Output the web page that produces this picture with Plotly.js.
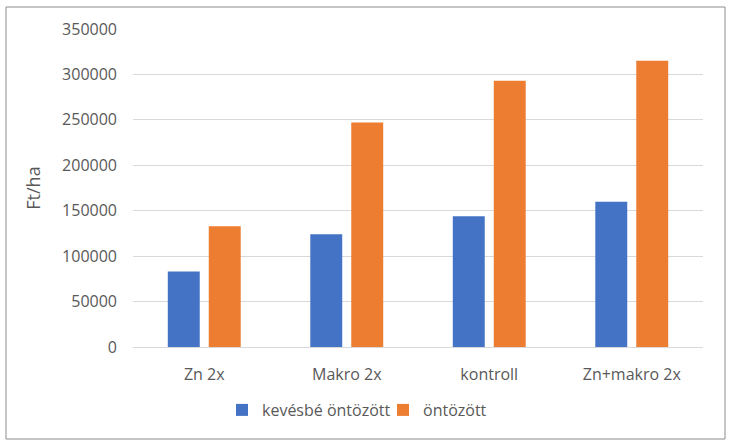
<!DOCTYPE html>
<html>
<head>
<meta charset="utf-8">
<script src="https://cdn.plot.ly/plotly-3.0.1.min.js"></script>
<style>
html,body{margin:0;padding:0;background:#fff;}
#chart{width:732px;height:446px;}
</style>
</head>
<body>
<div id="chart"></div>
<script>
const categories = ["Zn 2x", "Makro 2x", "kontroll", "Zn+makro 2x"];
const seriesNames = ["kevésbé öntözött", "öntözött"];
const lessIrrigated = [83000, 124000, 144000, 160000];
const irrigated = [133000, 247000, 293000, 315000];
const yTicks = [0, 50000, 100000, 150000, 200000, 250000, 300000, 350000];

const textColor = "#595959";
const fontFamily = "Open Sans, Liberation Sans, sans-serif";

const traces = [
  {type: "bar", name: seriesNames[0], x: categories, y: lessIrrigated,
   marker: {color: "#4472C4"}, hoverinfo: "skip"},
  {type: "bar", name: seriesNames[1], x: categories, y: irrigated,
   marker: {color: "#ED7D31"}, hoverinfo: "skip"}
];

const L = 133, R = 703, T = 29, B = 347;
const pw = R - L, ph = B - T;
function px(x){ return (x - L) / pw; }
function py(y){ return (B - y) / ph; }

const layout = {
  width: 732, height: 446,
  margin: {l: L, r: 732 - R, t: T, b: 446 - B, pad: 0},
  paper_bgcolor: "#fff", plot_bgcolor: "#fff",
  barmode: "group", bargap: 0.425, bargroupgap: 0.22,
  font: {family: fontFamily, size: 16, color: textColor},
  showlegend: true,
  legend: {orientation: "h", x: px(222), xanchor: "left", y: py(410), yanchor: "middle",
           font: {size: 16, color: textColor}, itemwidth: 30, entrywidth: 116,
           bgcolor: "rgba(0,0,0,0)"},
  xaxis: {type: "category", showgrid: false, zeroline: false, showline: true,
          linecolor: "#d9d9d9", linewidth: 1, ticks: "", ticklabelstandoff: 13,
          tickfont: {size: 16, color: textColor}, fixedrange: true},
  yaxis: {range: [0, 350000], tickvals: yTicks, ticktext: yTicks.map(String),
          showgrid: true, gridcolor: "#d9d9d9", gridwidth: 1, zeroline: false,
          showline: false, ticks: "", ticklabelstandoff: 15,
          tickfont: {size: 16, color: textColor}, fixedrange: true,
          title: {text: "Ft/ha", font: {size: 18, color: textColor}, standoff: 16}},
  shapes: [{type: "rect", xref: "paper", yref: "paper",
            x0: px(6), x1: px(725), y0: py(439), y1: py(7),
            line: {color: "#8c8c8c", width: 1}, fillcolor: "rgba(0,0,0,0)", layer: "below"}]
};

Plotly.newPlot("chart", traces, layout, {staticPlot: true, displayModeBar: false});
</script>
</body>
</html>
